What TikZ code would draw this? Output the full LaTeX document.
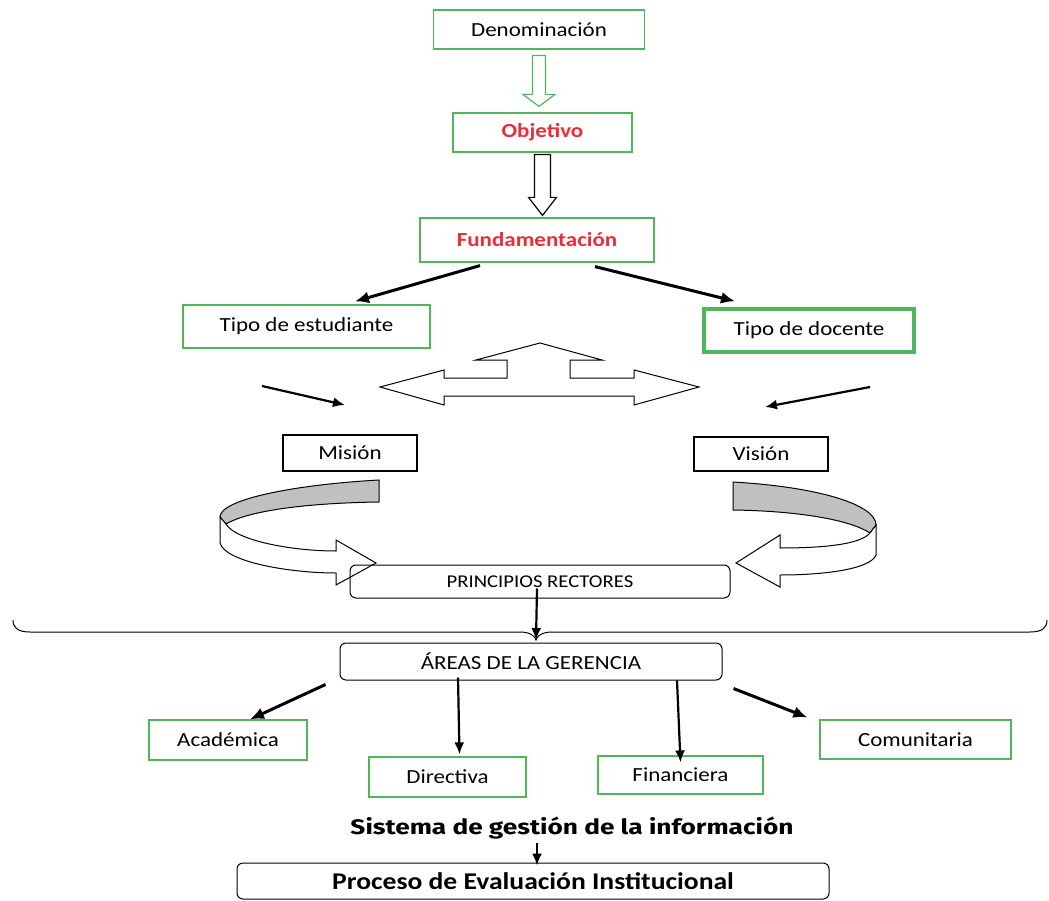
\documentclass[tikz,border=0pt]{standalone}
\usepackage{fontspec}
\setmainfont{Carlito}[FakeStretch=1.15]
\newfontfamily\sisfont{Fira Sans}[FakeStretch=1.25]
\usetikzlibrary{calc,arrows.meta}
\definecolor{boxgreen}{RGB}{80,182,92}
\definecolor{txtred}{RGB}{236,44,56}
\definecolor{ribgray}{RGB}{192,192,192}
\tikzset{
  every picture/.style={line width=1.2pt},
  gbox/.style={draw=boxgreen,rectangle,inner sep=0,align=center,font=\fontsize{20}{24}\selectfont},
  kbox/.style={draw,rectangle,inner sep=0,align=center,font=\fontsize{20}{24}\selectfont},
  rbox/.style={draw,rectangle,rounded corners=6pt,inner sep=0,align=center},
  rtxt/.style={text=txtred,font=\fontsize{20}{24}\selectfont\bfseries},
  flow/.style={-{Latex[length=14pt,width=12pt]},line width=3pt},
  sflow/.style={-{Latex[length=12pt,width=10pt]},line width=2.2pt},
  ribbon/.style={draw,line width=1pt,line join=miter},
}
\newcommand{\hollowdown}[7]{% colour, from, to, shaft hw, head hw, head length, gap
  \draw[#1,line width=1.2pt,fill=white]
    ($(#2.south)+(-#4,#7)$) -- ($(#2.south|-#3.north)+(-#4,-#7-#6)$)
    -- ($(#2.south|-#3.north)+(-#5,-#7-#6)$) -- ($(#2.south|-#3.north)+(0,-#7)$)
    -- ($(#2.south|-#3.north)+(#5,-#7-#6)$) -- ($(#2.south|-#3.north)+(#4,-#7-#6)$)
    -- ($(#2.south)+(#4,#7)$) -- cycle;}

\begin{document}
\begin{tikzpicture}[x=1pt,y=-1pt]
\useasboundingbox (0,0) rectangle (1049,901);
% --- top chain ---
\node[gbox,minimum width=211,minimum height=39] (den) at (539,29.5) {Denominación};
\node[gbox,rtxt,minimum width=179,minimum height=39] (obj) at (542.5,132.5) {Objetivo};
\node[gbox,rtxt,minimum width=234,minimum height=44] (fund) at (537,240) {Fundamentación};
\hollowdown{boxgreen}{den}{obj}{6.5}{16}{12}{6}
\hollowdown{black}{obj}{fund}{8}{14}{18}{2}
% --- tipo de ... ---
\node[gbox,minimum width=247,minimum height=43] (est) at (306.5,326.5) {Tipo de estudiante};
\node[gbox,line width=3.5pt,minimum width=210,minimum height=43] (doc) at (809,330.5) {Tipo de docente};
\draw[flow] ($(fund.south)+(-57,3)$) -- ($(est.north)+(48.5,-3)$);
\draw[flow] ($(fund.south)+(58,4)$) -- ($(doc.north)+(-74,-6)$);
% three-way arrow
\draw[line width=1pt,fill=white] (380,387) -- (444,370) -- (444,378) -- (507,378) -- (507,360)
  -- (476,360) -- (540,343) -- (602,360) -- (570,360) -- (570,378) -- (634,378) -- (634,370)
  -- (699,387) -- (634,405) -- (634,396) -- (444,396) -- (444,405) -- cycle;
\coordinate (ls) at (262,386); \coordinate (le) at (345,405);
\coordinate (rs) at (870,387); \coordinate (re) at (765,407);
\draw[sflow] (ls) -- (le);
\draw[sflow] (rs) -- (re);
% --- mision / vision ---
\node[kbox,minimum width=134,minimum height=36] (mis) at (350,453) {Misión};
\node[kbox,minimum width=134,minimum height=34] (vis) at (761,454) {Visión};
% curved arrows
\draw[ribbon,fill=ribgray] (379,480) .. controls (290,485) and (220,500) .. (220,517)
  -- (226,524) .. controls (250,510) and (310,503) .. (379,502) -- cycle;
\draw[ribbon,fill=white] (220,517) -- (220,543) .. controls (225,562) and (290,573) .. (336,573)
  -- (336,585) -- (376,563) -- (336,540) -- (336,551) .. controls (290,551) and (235,540) .. (226,524) -- cycle;
\draw[ribbon,fill=ribgray] (733,482) .. controls (820,487) and (876,505) .. (876,525)
  -- (870,533) .. controls (850,520) and (800,511) .. (733,510) -- cycle;
\draw[ribbon,fill=white] (876,525) -- (876,555) .. controls (870,570) and (820,575) .. (780,575)
  -- (780,587) -- (736,563) -- (780,535) -- (780,548) .. controls (820,548) and (860,545) .. (870,533) -- cycle;
% --- principios + brace ---
\node[rbox,line width=1pt,minimum width=380,minimum height=33,font=\fontsize{18}{20}\selectfont] (prin) at (540,581.5) {\raisebox{-4pt}{PRINCIPIOS RECTORES}};
\coordinate (tip) at (536,640);
\draw[line width=1pt] (13,620) .. controls (13,628) and (18,632) .. (30,632) -- (520,632)
  .. controls (530,632) and (535,636) .. (tip) .. controls (537,636) and (542,632) .. (552,632)
  -- (1030,632) .. controls (1042,632) and (1047,628) .. (1047,620);
\draw[sflow] ($(prin.south)+(-3,-10)$) -- (tip);
% --- areas ---
\node[rbox,line width=1pt,minimum width=382,minimum height=37,font=\fontsize{20}{22}\selectfont] (areas) at (531,661.5) {ÁREAS DE LA GERENCIA};
\node[gbox,minimum width=158,minimum height=40] (aca) at (228,740) {Académica};
\node[gbox,minimum width=157,minimum height=40] (dir) at (447.5,777) {Directiva};
\node[gbox,minimum width=165,minimum height=38] (fin) at (680.5,775) {Financiera};
\node[gbox,minimum width=191,minimum height=39] (com) at (915.5,739.5) {Comunitaria};
\draw[flow] ($(areas.south west)+(-14,4)$) -- ($(aca.north)+(22,0)$);
\draw[sflow] ($(areas.south)+(-73,-3)$) -- ($(dir.north)+(12,-2)$);
\draw[sflow] ($(areas.south)+(146,0)$) -- ($(fin.north)+(0,7)$);
\draw[flow] ($(areas.south east)+(11,8)$) -- ($(com.north west)+(-12,-2)$);
% --- bottom ---
\node[font=\sisfont\fontsize{21}{24}\selectfont\bfseries] (sis) at (572,828) {Sistema de gestión de la información};
\node[rbox,line width=1pt,minimum width=592,minimum height=36,font=\fontsize{24}{26}\selectfont\bfseries] (proc) at (533,881) {Proceso de Evaluación Institucional};
\draw[sflow] ($(sis.south)+(-35,0)$) -- ($(proc.north)+(4,3)$);
\end{tikzpicture}
\end{document}
